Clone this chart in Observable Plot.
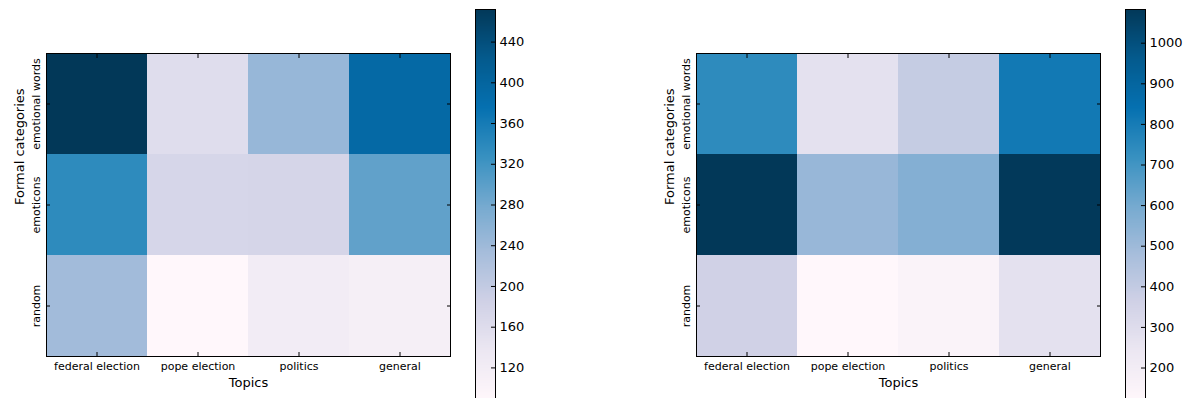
<!DOCTYPE html>
<html><head><meta charset="utf-8">
<script src="https://cdn.jsdelivr.net/npm/d3@7"></script>
<script src="https://cdn.jsdelivr.net/npm/@observablehq/plot@0.6"></script>
<style>
html,body{margin:0;padding:0;background:#fff;}
#chart{position:relative;width:1187px;height:398px;overflow:hidden;background:#fff;font-family:"DejaVu Sans",sans-serif;}
#chart > div, #chart > svg{position:absolute;top:0;}
</style></head><body><div id="chart"></div>
<script>
// ---- data ----
const topics = ["federal election", "pope election", "politics", "general"];
const categories = ["emotional words", "emoticons", "random"];
const leftValues = [
  [472, 158, 246, 391],
  [336, 174, 176, 295],
  [236, 88, 121, 113]
];
const rightValues = [
  [741, 274, 393, 810],
  [1083, 515, 563, 1078],
  [361, 120, 149, 274]
];
const leftTicks = [120, 160, 200, 240, 280, 320, 360, 400, 440];
const rightTicks = [200, 300, 400, 500, 600, 700, 800, 900, 1000];
const xLabel = "Topics";
const yLabel = "Formal categories";
const pubu = ["#fff7fb","#ece7f2","#d0d1e6","#a6bddb","#74a9cf","#3690c0","#0570b0","#045a8d","#023858"];

const FONT = "DejaVu Sans, sans-serif";

function colorScale(vmin, vmax) {
  const domain = pubu.map((_, i) => vmin + (vmax - vmin) * i / (pubu.length - 1));
  return {type: "linear", domain, range: pubu, interpolate: "rgb"};
}

function heatmap(values, left, width, marginLeft) {
  const flat = values.flat();
  const vmin = d3.min(flat), vmax = d3.max(flat);
  const data = categories.flatMap((c, i) => topics.map((t, j) => ({topic: t, category: c, value: values[i][j]})));
  const right = marginLeft + 404;
  const svg = Plot.plot({
    width, height: 398,
    marginLeft, marginRight: width - right, marginTop: 53, marginBottom: 42,
    style: {fontFamily: FONT, fontSize: "11px", color: "black", background: "transparent"},
    x: {domain: topics, padding: 0},
    y: {domain: categories, padding: 0},
    color: colorScale(vmin, vmax),
    marks: [
      Plot.cell(data, {x: "topic", y: "category", fill: "value", inset: 0}),
      Plot.frame({stroke: "black"}),
      Plot.axisX({anchor: "bottom", tickSize: -4, tickPadding: 10, fontSize: 11, label: null}),
      Plot.axisX({anchor: "top", tickSize: -4, tickFormat: () => "", label: null}),
      Plot.axisY({anchor: "left", tickSize: -4, tickRotate: -90, tickPadding: 11, fontSize: 11, label: null}),
      Plot.axisY({anchor: "right", tickSize: -4, tickFormat: () => "", label: null}),
      Plot.text([xLabel], {text: d => d, frameAnchor: "bottom", dy: 21.3, lineAnchor: "top", fontSize: 13}),
      Plot.text([yLabel], {text: d => d, frameAnchor: "left", rotate: -90, dx: -32, lineAnchor: "top", fontSize: 13})
    ]
  });
  svg.style.left = left + "px";
  return svg;
}

function colorbar(values, ticks, left, width) {
  const flat = values.flat();
  const vmin = d3.min(flat), vmax = d3.max(flat);
  const n = 400, step = (vmax - vmin) / n;
  const slices = d3.range(n).map(i => vmin + i * step);
  const svg = Plot.plot({
    width, height: 400,
    marginLeft: 0, marginRight: width - 20, marginTop: 9, marginBottom: 0,
    style: {fontFamily: FONT, fontSize: "13px", color: "black", background: "transparent"},
    x: {domain: [0, 1], axis: null},
    y: {domain: [vmin, vmax]},
    color: colorScale(vmin, vmax),
    marks: [
      Plot.rect(slices, {x1: 0, x2: 1, y1: d => d, y2: d => Math.min(vmax, d + step * 1.5), fill: d => d + step / 2, shapeRendering: "crispEdges"}),
      Plot.frame({stroke: "black"}),
      Plot.axisY({anchor: "right", ticks, tickSize: -5, tickPadding: 9, fontSize: 13, label: null, tickFormat: d => String(d)})
    ]
  });
  svg.style.left = left + "px";
  return svg;
}

const chart = document.getElementById("chart");
chart.append(heatmap(leftValues, 0, 470, 46));
chart.append(colorbar(leftValues, leftTicks, 475, 60));
chart.append(heatmap(rightValues, 620, 500, 76));
chart.append(colorbar(rightValues, rightTicks, 1125, 62));
</script>
</body></html>
